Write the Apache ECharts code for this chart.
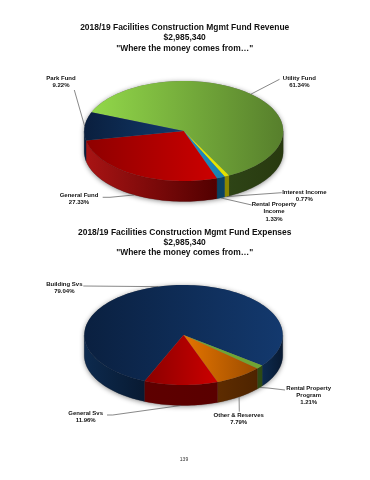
<!DOCTYPE html>
<html><head><meta charset="utf-8">
<style>html,body{margin:0;padding:0;background:#fff}#c{width:370px;height:480px}</style>
<script src="https://cdn.jsdelivr.net/npm/echarts@6/dist/echarts.min.js"></script>
</head><body><div id="c"></div>
<script>
// ---- data ----
const revenueNames  = ['Utility Fund','Interest Income','Rental Property\nIncome','General Fund','Park Fund'];
const revenueValues = [61.34,0.77,1.33,27.33,9.22];
const expenseNames  = ['Building Svs','Rental Property\nProgram','Other & Reserves','General Svs'];
const expenseValues = [79.04,1.21,7.79,11.96];
const revenueTitle = '2018/19 Facilities Construction Mgmt Fund Revenue\n$2,985,340\n"Where the money comes from…"';
const expenseTitle = '2018/19 Facilities Construction Mgmt Fund Expenses\n$2,985,340\n"Where the money comes from…"';
const pageNumber = '139';

// ---- styling: [top-left, top-right, wall-left, wall-right] ----
const revenueColors = [
  ['#92d84a','#577f2c','#2e4416','#28390f'],
  ['#f2f000','#e0e000','#8c8800','#8c8800'],
  ['#1f90c4','#1a80b0','#0a4262','#0a4262'],
  ['#8e0000','#cc0000','#a81414','#520000'],
  ['#0a1f3e','#123a6c','#0a1f3e','#0a1f3e']
];
const expenseColors = [
  ['#0a2040','#13396e','#0d2a4e','#081a32'],
  ['#6fa534','#6fa534','#2e4a14','#2e4a14'],
  ['#e57500','#9c4c00','#5e2c00','#4e2400'],
  ['#8a0000','#cc0000','#5e0000','#5a0000']
];
// ---- layout ----
const revenueGeom = {cx:183.7,cy:131,rx:99.5,ry:50,depth:20.5,start:292.1};
const expenseGeom = {cx:183.5,cy:335,rx:99.2,ry:50,depth:20.5,start:203};
const revenueLabels = [
  {x:299.3,y:78.3,anchor:'rim',path:[[279.5,79.3]]},
  {x:304.3,y:192,anchor:'wall',path:[[281.7,192.7]]},
  {x:274,y:204.7,anchor:'wall',path:[[251.7,205]]},
  {x:79,y:195.3,anchor:'wall',path:[[110,197.3],[102.7,197.3]]},
  {x:61,y:78.3,anchor:'rim',path:[[74.3,90]]}
];
const expenseLabels = [
  {x:64.3,y:284.7,anchor:'rim',path:[[83.3,286]]},
  {x:308.7,y:388,anchor:'wall',path:[[268,388],[285,390]]},
  {x:238.7,y:415.3,anchor:'wall',path:[[239.3,411.7]]},
  {x:85.7,y:413.7,anchor:'wall',path:[[112.7,415],[107,415]]}
];
const FONT = '"Liberation Sans", Arial, sans-serif';

function makeSeries(names, values, colors, geom, labels){
  const total = values.reduce((a,b)=>a+b,0);
  let acc = geom.start;
  const spans = values.map(v=>{const s=acc; acc+=v/total*360; return [s,acc];});
  const pt = (deg,drop)=>{const r=deg*Math.PI/180;
    return [geom.cx+geom.rx*Math.sin(r), geom.cy-geom.ry*Math.cos(r)+(drop||0)];};
  const arc = (a,b,drop)=>{const out=[];const n=Math.max(2,Math.ceil(Math.abs(b-a)/2));
    for(let i=0;i<=n;i++)out.push(pt(a+(b-a)*i/n,drop));return out;};
  const grad = (c0,c1)=>({type:'linear',x:0,y:0,x2:1,y2:0,colorStops:[{offset:0,color:c0},{offset:1,color:c1}]});
  return {
    type:'custom', coordinateSystem:'none', silent:true, animation:false,
    data: values.map(v=>[v]),
    renderItem(params, api){
      const i=params.dataIndex, span=spans[i], c=colors[i], kids=[];
      if(i===0){
        kids.push({type:'polygon',z2:-1,shape:{points:arc(90,270,geom.depth).concat(arc(270,450,0))},
          style:{fill:'#777',shadowBlur:5,shadowColor:'rgba(0,0,0,0.45)',shadowOffsetY:1}});
      }
      [[90,270],[450,630]].forEach(w=>{
        const a=Math.max(span[0],w[0]), b=Math.min(span[1],w[1]);
        if(b>a){
          kids.push({type:'polygon',z2:1,shape:{points:arc(a,b,0).concat(arc(b,a,geom.depth))},
            style:{fill:grad(c[2],c[3]),stroke:c[3],lineWidth:0.2}});
        }
      });
      kids.push({type:'polygon',z2:2,shape:{points:[[geom.cx,geom.cy]].concat(arc(span[0],span[1],0))},
        style:{fill:grad(c[0],c[1])}});
      const L=labels[i], mid=(span[0]+span[1])/2;
      kids.push({type:'polyline',z2:3,shape:{points:[pt(mid,L.anchor==='wall'?geom.depth:0)].concat(L.path)},
        style:{fill:null,stroke:'#555',lineWidth:0.7}});
      const text=names[i]+'\n'+api.value(0).toFixed(2)+'%';
      kids.push({type:'text',z2:4,x:L.x,y:L.y-3.6,
        style:{text:text,fill:'#111',font:'bold 6px '+FONT,align:'center',verticalAlign:'top',lineHeight:7.1}});
      return {type:'group',children:kids};
    }
  };
}
const titleStyle={fontFamily:'Liberation Sans',fontWeight:'bold',fontSize:8.45,lineHeight:10.3,color:'#111'};
const chart=echarts.init(document.getElementById('c'),null,{width:370,height:480});
chart.setOption({
  backgroundColor:'#fff',animation:false,
  title:[
    {text:revenueTitle,left:184.7,top:22.5,textAlign:'center',padding:0,textStyle:titleStyle},
    {text:expenseTitle,left:184.7,top:227.2,textAlign:'center',padding:0,textStyle:titleStyle},
    {text:pageNumber,left:184,top:457.5,textAlign:'center',padding:0,textStyle:{fontFamily:'Liberation Sans',fontWeight:'normal',fontSize:5,color:'#333'}}
  ],
  series:[
    makeSeries(revenueNames,revenueValues,revenueColors,revenueGeom,revenueLabels),
    makeSeries(expenseNames,expenseValues,expenseColors,expenseGeom,expenseLabels)
  ]
});
</script></body></html>
